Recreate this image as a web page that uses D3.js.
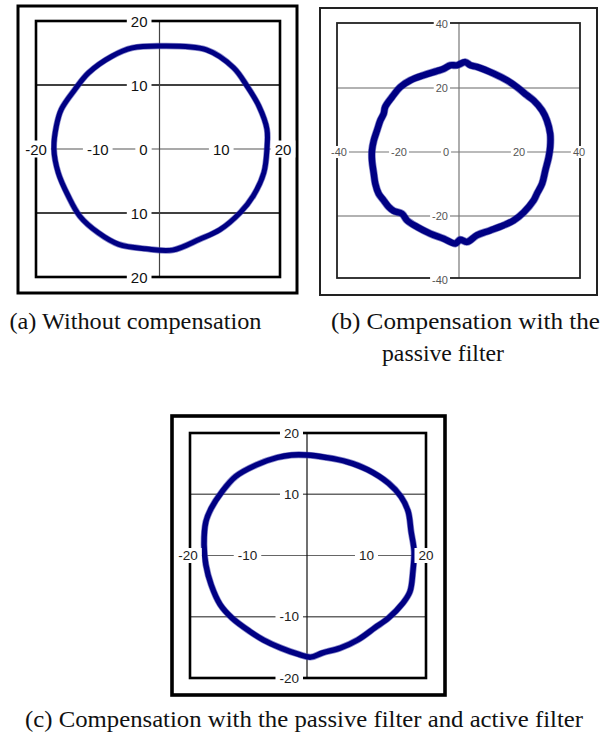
<!DOCTYPE html>
<html>
<head>
<meta charset="utf-8">
<script src="https://cdn.jsdelivr.net/npm/d3@7"></script>
<style>
  html, body { margin: 0; padding: 0; background: #fff; }
  svg { display: block; }
</style>
</head>
<body>
<svg id="chart" width="608" height="738"></svg>
<script>
// ---------- DATA ----------
// Panel (a): without compensation (current locus, A)
const xA = [0, 7.6, 12.0, 14.2, 16.1, 17.4, 17.4, 16.9, 15.2, 13.1, 9.8, 6.5, 2.1, -2.2, -6.6, -9.9, -12.9, -14.8, -16.4, -17.1, -16.7, -15.9, -13.7, -11.5, -7.7, -4.4];
const yA = [16.1, 15.5, 12.7, 9.8, 6.7, 3.1, 0, -3.7, -7.3, -9.9, -12.6, -14.1, -15.8, -15.6, -14.9, -13.1, -10.5, -7.3, -3.7, 0, 3.6, 6.2, 9.3, 11.9, 14.5, 15.8];

// Panel (b): compensation with the passive filter
const xB = [2.1, -0.7, -2.9, -5.1, -7.3, -11.8, -16.2, -19.6, -22.3, -24.6, -25.1, -26.2, -27.3, -28.4, -29.0, -29.0, -28.4, -27.9, -26.8, -25.1, -23.4, -21.8, -19.0, -17.3, -14.0, -9.6, -5.1, -1.2, 0.4, 2.7, 6.0, 10.4, 14.9, 18.2, 21.6, 24.9, 26.0, 27.7, 28.8, 29.9, 30.4, 30.4, 29.3, 27.7, 24.9, 22.7, 19.3, 16.0, 11.6, 6.0, 3.8];
const yB = [28.1, 27.1, 27.1, 26.0, 25.3, 24.0, 22.4, 20.3, 17.2, 14.1, 12.0, 9.9, 6.8, 3.6, 0.5, -2.6, -6.8, -9.9, -13.0, -15.1, -17.2, -18.4, -19.3, -21.4, -23.4, -25.5, -27.1, -28.6, -27.4, -28.1, -26.0, -24.5, -22.9, -21.4, -18.8, -15.1, -13.0, -9.9, -5.7, -1.6, 1.6, 5.7, 9.9, 13.0, 16.1, 17.7, 20.3, 22.4, 24.5, 26.6, 27.1];

// Panel (c): compensation with the passive filter and active filter
const xC = [0, 3.2, 6.7, 10.2, 13.7, 15.8, 17.0, 17.5, 18.0, 17.8, 17.3, 16.1, 13.7, 11.4, 8.5, 5.6, 2.6, 0.6, -1.5, -4.4, -7.3, -9.6, -12.6, -14.6, -16.1, -17.0, -17.3, -17.0, -16.1, -14.3, -12.0, -8.5, -5.0, -2.6];
const yC = [16.4, 16.0, 15.3, 14.0, 11.8, 9.6, 7.2, 3.9, 0.7, -2.6, -5.9, -7.8, -10.2, -11.8, -13.8, -15.1, -15.9, -16.6, -16.1, -15.1, -13.8, -12.4, -10.2, -8.0, -4.8, -1.5, 1.7, 5.5, 7.7, 10.4, 12.9, 14.8, 16.0, 16.4];

// Tick values and labels
const xTicksA = [-20, -10, 0, 10, 20];
const xLabelsA = ["-20", "-10", "0", "10", "20"];
const yTicksA = [20, 10, -10, -20];
const yLabelsA = ["20", "10", "10", "20"];

const xTicksB = [-40, -20, 0, 20, 40];
const xLabelsB = ["-40", "-20", "0", "20", "40"];
const yTicksB = [40, 20, -20, -40];
const yLabelsB = ["40", "20", "-20", "-40"];

const xTicksC = [-20, -10, 10, 20];
const xLabelsC = ["-20", "-10", "10", "20"];
const yTicksC = [20, 10, -10, -20];
const yLabelsC = ["20", "10", "-10", "-20"];

const captions = [
  "(a) Without compensation",
  "(b) Compensation with the",
  "passive filter",
  "(c) Compensation with the passive filter and active filter"
];

// ---------- DRAW ----------
const svg = d3.select("#chart");

function panel(cfg) {
  const g = svg.append("g");
  const x = d3.scaleLinear().domain(cfg.xDom).range(cfg.xRange);
  const y = d3.scaleLinear().domain(cfg.yDom).range(cfg.yRange);
  const b = cfg.box;

  // outer frame
  g.append("rect")
    .attr("x", cfg.frame[0]).attr("y", cfg.frame[1])
    .attr("width", cfg.frame[2] - cfg.frame[0]).attr("height", cfg.frame[3] - cfg.frame[1])
    .attr("fill", "#fff").attr("stroke", cfg.frameColor).attr("stroke-width", cfg.frameW);

  // grid lines
  g.selectAll("line.grid").data(cfg.grid).join("line")
    .attr("x1", b[0]).attr("x2", b[2])
    .attr("y1", d => y(d)).attr("y2", d => y(d))
    .attr("stroke", cfg.gridColor).attr("stroke-width", cfg.gridW);

  // center axes
  g.append("line").attr("x1", b[0]).attr("x2", b[2]).attr("y1", y(0)).attr("y2", y(0))
    .attr("stroke", cfg.hAxisColor).attr("stroke-width", 1.2);
  g.append("line").attr("x1", x(0)).attr("x2", x(0)).attr("y1", b[1]).attr("y2", b[3])
    .attr("stroke", cfg.vAxisColor).attr("stroke-width", 1.2);

  // inner box
  g.append("rect")
    .attr("x", b[0]).attr("y", b[1]).attr("width", b[2] - b[0]).attr("height", b[3] - b[1])
    .attr("fill", "none").attr("stroke", cfg.boxColor).attr("stroke-width", cfg.boxW);

  // locus
  const pts = cfg.xs.map((v, i) => [v, cfg.ys[i]]);
  const line = d3.line().x(d => x(d[0])).y(d => y(d[1])).curve(d3.curveCatmullRomClosed.alpha(0.5));
  g.append("path").attr("d", line(pts))
    .attr("fill", "none").attr("stroke", "#3a3aa8").attr("stroke-width", cfg.curveW + 1.4)
    .attr("stroke-linejoin", "round").attr("opacity", 0.6);
  g.append("path").attr("d", line(pts))
    .attr("fill", "none").attr("stroke", "#000083").attr("stroke-width", cfg.curveW)
    .attr("stroke-linejoin", "round");

  // labels with white background
  function label(tx, ty, text, anchor) {
    const t = g.append("text")
      .attr("x", tx).attr("y", ty).attr("text-anchor", anchor)
      .attr("dominant-baseline", "central")
      .attr("font-family", "'Liberation Sans', Arial, sans-serif")
      .attr("font-size", cfg.fontSize).attr("fill", cfg.labelColor).text(text);
    const bb = t.node().getBBox();
    g.insert("rect", function () { return t.node(); })
      .attr("x", bb.x - cfg.pad).attr("y", bb.y)
      .attr("width", bb.width + 2 * cfg.pad).attr("height", bb.height)
      .attr("fill", "#fff");
  }
  cfg.yTicks.forEach((v, i) => label(x(0) - cfg.yLabOff, y(v), cfg.yLabels[i], "end"));
  cfg.xTicks.forEach((v, i) => {
    if (v === 0) label(x(0) - cfg.zeroOff, y(0), cfg.xLabels[i], "middle");
    else label(x(v), y(0), cfg.xLabels[i], "middle");
  });
}

panel({
  xs: xA, ys: yA, xDom: [-20, 20], yDom: [-20, 20],
  xRange: [36, 283], yRange: [277, 21],
  frame: [18, 6, 297, 293], frameW: 3, frameColor: "#000",
  box: [36, 21, 280, 277], boxW: 2.6, boxColor: "#000",
  grid: [10, -10], gridColor: "#000", gridW: 1.4,
  hAxisColor: "#555", vAxisColor: "#444",
  xTicks: xTicksA, xLabels: xLabelsA, yTicks: yTicksA, yLabels: yLabelsA,
  fontSize: 15, labelColor: "#111", yLabOff: 12, zeroOff: 16, pad: 4,
  curveW: 5
});

panel({
  xs: xB, ys: yB, xDom: [-40, 40], yDom: [-40, 40],
  xRange: [339, 579], yRange: [280, 24],
  frame: [320, 8, 597, 295], frameW: 2, frameColor: "#222",
  box: [337, 23, 580, 278], boxW: 1.8, boxColor: "#222",
  grid: [20, -20], gridColor: "#999", gridW: 1.5,
  hAxisColor: "#777", vAxisColor: "#777",
  xTicks: xTicksB, xLabels: xLabelsB, yTicks: yTicksB, yLabels: yLabelsB,
  fontSize: 11, labelColor: "#555", yLabOff: 11, zeroOff: 13, pad: 2,
  curveW: 6.4
});

panel({
  xs: xC, ys: yC, xDom: [-20, 20], yDom: [-20, 20],
  xRange: [188, 426], yRange: [678, 433],
  frame: [172, 416, 445, 695], frameW: 3.6, frameColor: "#000",
  box: [190, 433, 426, 678], boxW: 2.6, boxColor: "#000",
  grid: [10, -10], gridColor: "#666", gridW: 1.4,
  hAxisColor: "#666", vAxisColor: "#111",
  xTicks: xTicksC, xLabels: xLabelsC, yTicks: yTicksC, yLabels: yLabelsC,
  fontSize: 13.5, labelColor: "#222", yLabOff: 8, zeroOff: 14, pad: 4,
  curveW: 5.4
});

// captions
const capPos = [
  { x: 9.5, y: 329, w: 252 },
  { x: 331, y: 329, w: 269 },
  { x: 382, y: 361, w: 122 },
  { x: 25, y: 727, w: 558 }
];
svg.selectAll("text.cap").data(captions).join("text")
  .attr("class", "cap")
  .attr("x", (d, i) => capPos[i].x).attr("y", (d, i) => capPos[i].y)
  .attr("font-family", "'Liberation Serif', 'Times New Roman', serif")
  .attr("font-size", 22.5).attr("fill", "#111")
  .attr("textLength", (d, i) => capPos[i].w).attr("lengthAdjust", "spacingAndGlyphs")
  .text(d => d);
</script>
</body>
</html>
